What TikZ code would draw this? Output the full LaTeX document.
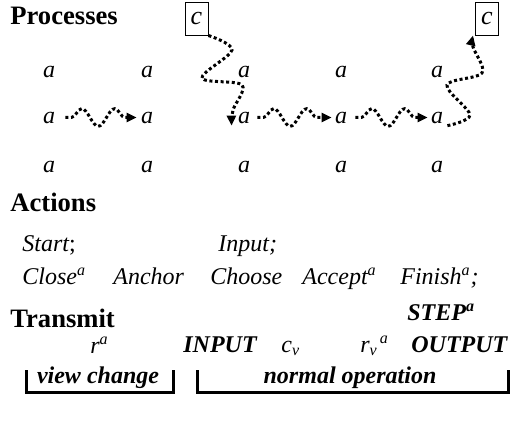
\documentclass[tikz,border=0pt]{standalone}
\usepackage{fontspec}
\setmainfont{Liberation Serif}[
  UprightFont={Liberation Serif},
  BoldFont={Liberation Serif Bold},
  ItalicFont={Liberation Serif Italic},
  BoldItalicFont={Liberation Serif Bold Italic}]
\usetikzlibrary{decorations.pathmorphing,arrows.meta}

\begin{document}
\begin{tikzpicture}[x=0.5pt, y=-0.5pt,
        head/.style={anchor=base west, inner sep=0pt, font=\fontsize{13.3}{16}\selectfont\bfseries},
        act/.style={anchor=base west, inner sep=0pt, font=\fontsize{12}{14}\selectfont\itshape},
        ctrl/.style={anchor=base west, inner sep=0pt, font=\fontsize{12}{14}\selectfont\bfseries\itshape},
        proc/.style={anchor=base, inner sep=1pt, font=\fontsize{12}{14}\selectfont\itshape},
        cbox/.style={draw, line width=0.5pt, minimum width=11.5pt, minimum height=16.5pt, inner sep=0pt, font=\fontsize{13}{15}\selectfont\itshape},
        wig/.style={line width=1.5pt, dash pattern=on 1.5pt off 1.3pt, >={Triangle[length=5pt,width=4.5pt]}},
        snk/.style={wig, decorate, decoration={snake, amplitude=4.4pt, segment length=16.5pt, pre length=3pt, post length=5pt}},
        brk/.style={line width=1.5pt}]
        \useasboundingbox (0,0) rectangle (510,425);

        \node[head] (processes) at(10,24){Processes};
        \node[cbox] (cL) at(196.5,18.5){c};
        \node[cbox] (cR) at(487,18.5){c};

        \node[proc] (a-1-1) at(49,77){a};
        \node[proc] (a-2-1) at(147,77){a};
        \node[proc] (a-3-1) at(244,77){a};
        \node[proc] (a-4-1) at(341,77){a};
        \node[proc] (a-5-1) at(437,77){a};

        \node[proc] (a-1-2) at(49,123){a};
        \node[proc] (a-2-2) at(147,123){a};
        \node[proc] (a-3-2) at(244,123){a};
        \node[proc] (a-4-2) at(341,123){a};
        \node[proc] (a-5-2) at(437,123){a};

        \node[proc] (a-1-3) at(49,172){a};
        \node[proc] (a-2-3) at(147,172){a};
        \node[proc] (a-3-3) at(244,172){a};
        \node[proc] (a-4-3) at(341,172){a};
        \node[proc] (a-5-3) at(437,172){a};

        \draw [snk,->] ([xshift=4pt]a-1-2.east) -- ([xshift=-1pt]a-2-2.west);
        \draw [snk,->] ([xshift=2.5pt]a-3-2.east) -- ([xshift=-0.5pt]a-4-2.west);
        \draw [snk,->] ([xshift=3pt]a-4-2.east) -- ([xshift=-0.5pt]a-5-2.west);
        \draw [wig,->] plot[smooth, tension=0.55] coordinates {(cL.south east) (232,50) (202,78) (242,85) (233,110) ([xshift=-2pt]a-3-2.south west)};
        \draw [wig,->] plot[smooth, tension=0.55] coordinates {([xshift=1pt]a-5-2.south east) (470,115) (447,85) (482,73) (473,47) ([xshift=-1pt]cR.south west)};

        \node[head] (actions) at(10,211){Actions};
        \node[act] (start) at(22,251){Start\upshape;};
        \node[act] (input) at(218,251){Input;};
        \node[act] (close) at(22,284){Close\textsuperscript{a}};
        \node[act] (anchor) at(113,284){Anchor};
        \node[act] (choose) at(210,284){Choose};
        \node[act] (accept) at(302,284){Accept\textsuperscript{a}};
        \node[act] (finish) at(400,284){Finish\textsuperscript{a};};
        \node[ctrl] (step-a) at(407,320){STEP\textsuperscript{a}};

        \node[head] (transmit) at(10,327){Transmit};
        \node[act] (r-a) at(90,353){r\textsuperscript{a}};
        \node[ctrl] (input-t) at(183,352){INPUT};
        \node[act] (c-v) at(281,352){c\textsubscript{v}};
        \node[act] (r-v) at(360,352){r\textsubscript{v}\kern1pt\textsuperscript{a}};
        \node[ctrl] (output-t) at(411,352){OUTPUT};

        \node[ctrl, anchor=base] (view-change) at(98,383){view change};
        \node[ctrl, anchor=base] (normal-op) at(350,383){normal operation};
        \draw [brk] (26,370) |- (173,392) -- (173,370);
        \draw [brk] (197,370) |- (508,392) -- (508,370);

      \end{tikzpicture}
\end{document}
